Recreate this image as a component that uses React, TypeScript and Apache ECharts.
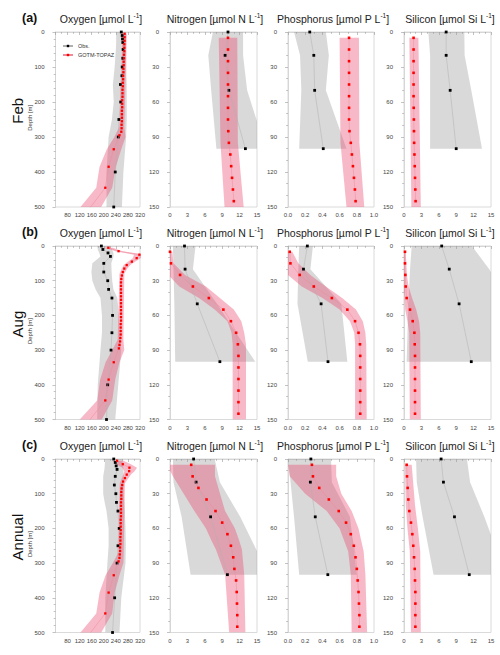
import React, { useEffect, useRef } from "react";
import * as echarts from "echarts";

// ---------- depths ----------
const OXY_OBS_DEPTH = [0, 10, 20, 30, 50, 75, 100, 125, 150, 200, 250, 300, 400, 500];
const OXY_MOD_DEPTH = [5, 15, 25, 35, 45, 55, 65, 75, 85, 95, 105, 115, 125, 135, 145, 155, 165, 175, 185, 195, 205, 215, 225, 235, 245, 255, 265, 275, 285, 295, 335, 385, 445, 505];
const NUT_OBS_DEPTH = [0, 20, 50, 100];
const NUT_MOD_DEPTH = [5, 15, 25, 35, 45, 55, 65, 75, 85, 95, 105, 115, 125, 135, 145];

// ---------- Oxygen ----------
const oxyFebObs = [258, 261, 262, 263, 264, 263, 261, 260, 255, 256, 250, 248, 238, 233];
const oxyFebObsLow = [241, 241, 241, 241, 240, 238, 236, 233, 230, 233, 227, 216, 209, 209];
const oxyFebObsHigh = [274, 274, 274, 274, 274, 275, 275, 275, 276, 276, 276, 274, 265, 260];
const oxyFebMod = [269, 269, 269, 268, 268, 268, 267, 267, 266, 266, 265, 265, 264, 264, 263, 263, 262, 262, 262, 261, 261, 261, 260, 260, 260, 260, 259, 259, 258, 252, 233, 216, 205, 152];
const oxyFebBandDepth = [5, 270, 300, 335, 385, 445, 505];
const oxyFebBandLow = [262, 252, 235, 210, 186, 175, 118];
const oxyFebBandHigh = [276, 268, 272, 258, 240, 228, 188];

const oxyAugObs = [192, 197, 214, 222, 200, 200, 213, 216, 227, 229, 227, 224, 213, 209];
const oxyAugObsLow = [178, 180, 185, 189, 162, 159, 162, 173, 189, 194, 194, 189, 180, 178];
const oxyAugObsHigh = [222, 227, 232, 232, 225, 226, 228, 232, 245, 250, 252, 258, 248, 238];
const oxyAugMod = [215, 249, 318, 309, 293, 276, 268, 263, 260, 258, 257, 257, 257, 257, 257, 257, 257, 257, 257, 257, 257, 257, 256, 256, 256, 256, 255, 254, 252, 250, 233, 216, 205, 150];
const oxyAugBandDepth = [5, 15, 25, 35, 45, 55, 65, 80, 270, 300, 335, 385, 445, 505];
const oxyAugBandLow = [200, 240, 300, 296, 281, 266, 260, 252, 246, 228, 206, 188, 178, 115];
const oxyAugBandHigh = [230, 262, 335, 322, 305, 288, 278, 268, 265, 268, 252, 238, 228, 190];

const oxyAnnObs = [233, 238, 241, 244, 238, 235, 240, 242, 247, 251, 247, 244, 236, 229];
const oxyAnnObsLow = [205, 204, 203, 202, 198, 198, 198, 203, 209, 216, 216, 212, 205, 205];
const oxyAnnObsHigh = [262, 263, 264, 265, 266, 266, 266, 268, 270, 272, 273, 272, 258, 252];
const oxyAnnMod = [244, 263, 285, 284, 276, 270, 264, 261, 259, 258, 258, 258, 257, 257, 257, 257, 257, 256, 256, 256, 256, 256, 255, 255, 255, 254, 254, 253, 252, 249, 233, 216, 205, 152];
const oxyAnnBandDepth = [5, 15, 25, 35, 45, 55, 70, 270, 300, 335, 385, 445, 505];
const oxyAnnBandLow = [228, 240, 262, 268, 265, 260, 253, 248, 230, 206, 186, 175, 118];
const oxyAnnBandHigh = [265, 290, 310, 302, 290, 282, 270, 266, 265, 252, 236, 228, 188];

// ---------- Nitrogen ----------
const nitFebObs = [10.0, 9.5, 10.15, 13.0];
const nitFebObsLow = [7.4, 6.6, 7.1, 8.0];
const nitFebObsHigh = [12.6, 12.6, 13.3, 16.5];
const nitFebMod = [10.0, 10.0, 10.0, 10.0, 10.0, 10.0, 10.0, 10.0, 10.05, 10.15, 10.4, 10.55, 10.7, 10.85, 11.0];
const nitFebBandDepth = [5, 95, 150];
const nitFebBandLow = [8.4, 8.7, 9.4];
const nitFebBandHigh = [11.6, 11.7, 12.7];

const nitAugObs = [2.5, 2.6, 4.7, 8.6];
const nitAugObsLow = [0.5, 0.6, 0.75, 0.9];
const nitAugObsHigh = [4.4, 3.95, 8.1, 14.7];
const nitAugMod = [0.0, 0.17, 1.74, 3.95, 6.7, 9.2, 10.5, 11.4, 11.7, 11.8, 11.8, 11.8, 11.8, 11.8, 11.8];
const nitAugBandDepth = [5, 15, 25, 35, 45, 55, 65, 75, 85, 150];
const nitAugBandLow = [-0.5, -0.5, -0.3, 1.6, 5.0, 7.7, 9.9, 10.6, 10.8, 10.8];
const nitAugBandHigh = [0.4, 0.6, 2.6, 6.2, 8.6, 11.0, 12.3, 12.8, 13.1, 13.1];

const nitAnnObs = [4.07, 4.5, 7.0, 9.9];
const nitAnnObsLow = [0.5, 0.6, 2.0, 3.55];
const nitAnnObsHigh = [7.7, 8.6, 12.1, 17.0];
const nitAnnMod = [3.66, 3.9, 4.9, 6.3, 7.85, 9.0, 9.9, 10.5, 10.9, 11.1, 11.4, 11.5, 11.55, 11.6, 11.6];
const nitAnnBandDepth = [5, 15, 45, 60, 70, 78, 100, 150];
const nitAnnBandLow = [-0.5, 0.5, 4.2, 6.2, 7.1, 7.9, 9.5, 10.2];
const nitAnnBandHigh = [7.75, 7.75, 9.5, 11.2, 11.9, 12.4, 12.8, 13.0];

// ---------- Phosphorus ----------
const phoFebObs = [0.253, 0.30, 0.31, 0.41];
const phoFebObsLow = [0.07, 0.14, 0.155, 0.13];
const phoFebObsHigh = [0.44, 0.475, 0.44, 0.68];
const phoFebMod = [0.71, 0.71, 0.71, 0.71, 0.71, 0.71, 0.71, 0.71, 0.715, 0.73, 0.743, 0.755, 0.767, 0.778, 0.786];
const phoFebBandDepth = [5, 95, 150];
const phoFebBandLow = [0.6, 0.61, 0.68];
const phoFebBandHigh = [0.825, 0.83, 0.887];

const phoAugObs = [0.225, 0.18, 0.385, 0.465];
const phoAugObsLow = [0.13, 0.12, 0.11, 0.23];
const phoAugObsHigh = [0.29, 0.26, 0.62, 0.69];
const phoAugMod = [0.02, 0.028, 0.136, 0.30, 0.51, 0.69, 0.78, 0.82, 0.837, 0.84, 0.84, 0.84, 0.84, 0.84, 0.84];
const phoAugBandDepth = [5, 15, 25, 35, 45, 55, 65, 75, 85, 150];
const phoAugBandLow = [-0.02, -0.02, 0.0, 0.16, 0.40, 0.60, 0.72, 0.77, 0.78, 0.78];
const phoAugBandHigh = [0.05, 0.12, 0.26, 0.44, 0.63, 0.79, 0.87, 0.9, 0.91, 0.915];

const phoAnnObs = [0.266, 0.26, 0.317, 0.463];
const phoAnnObsLow = [0.0, 0.03, 0.07, 0.13];
const phoAnnObsHigh = [0.50, 0.51, 0.72, 0.80];
const phoAnnMod = [0.278, 0.29, 0.363, 0.475, 0.59, 0.675, 0.73, 0.765, 0.785, 0.80, 0.81, 0.82, 0.825, 0.83, 0.83];
const phoAnnBandDepth = [5, 15, 30, 45, 60, 80, 100, 150];
const phoAnnBandLow = [0.0, 0.02, 0.2, 0.45, 0.6, 0.7, 0.73, 0.74];
const phoAnnBandHigh = [0.56, 0.56, 0.62, 0.74, 0.82, 0.88, 0.9, 0.92];

// ---------- Silicon ----------
const silFebObs = [7.27, 7.27, 7.96, 9.0];
const silFebObsLow = [4.2, 4.5, 4.5, 4.5];
const silFebObsHigh = [10.4, 10.45, 11.6, 13.45];
const silFebMod = [1.65, 1.65, 1.65, 1.65, 1.65, 1.65, 1.67, 1.7, 1.72, 1.75, 1.8, 1.85, 1.9, 1.95, 2.0];
const silFebBandDepth = [5, 150];
const silFebBandLow = [0.92, 1.27];
const silFebBandHigh = [2.48, 2.9];

const silAugObs = [6.5, 7.8, 9.5, 11.6];
const silAugObsLow = [1.33, 1.04, 0.75, 0.46];
const silAugObsHigh = [11.7, 14.7, 18, 18];
const silAugMod = [0.17, 0.17, 0.23, 0.29, 0.46, 1.04, 1.5, 1.79, 1.85, 1.9, 1.9, 1.9, 1.9, 1.9, 1.9];
const silAugBandDepth = [5, 25, 35, 45, 55, 65, 75, 150];
const silAugBandLow = [-0.2, -0.2, -0.1, 0.1, 0.2, 0.6, 0.9, 1.0];
const silAugBandHigh = [0.3, 0.5, 0.8, 1.4, 2.1, 2.6, 2.8, 2.9];

const silAnnObs = [6.4, 6.8, 8.7, 11.25];
const silAnnObsLow = [2.08, 2.2, 3.2, 5.1];
const silAnnObsHigh = [10.85, 11.4, 13.85, 17.5];
const silAnnMod = [0.46, 0.52, 0.63, 0.75, 0.92, 1.2, 1.44, 1.6, 1.73, 1.85, 1.9, 1.96, 1.96, 1.96, 1.96];
const silAnnBandDepth = [5, 40, 60, 80, 150];
const silAnnBandLow = [0.17, 0.3, 0.6, 1.0, 1.2];
const silAnnBandHigh = [1.33, 1.9, 2.4, 2.8, 2.9];

// ---------- labels ----------
const ROW_LABELS = ["Feb", "Aug", "Annual"];
const PANEL_LETTERS = ["(a)", "(b)", "(c)"];
const COL_TITLES = [
  ["Oxygen [µmol L", "]"],
  ["Nitrogen [µmol N L", "]"],
  ["Phosphorus [µmol P L", "]"],
  ["Silicon [µmol Si L", "]"],
];

// layout
const COL_LEFT = [55.5, 170, 288, 404];
const COL_WIDTH = [84.5, 87, 86, 87];
const COL_TITLE_X = [101, 215, 333, 450];
const ROW_TOP = [32, 246, 459];
const ROW_HEIGHT = [175, 173.5, 173.5];
const ROW_TITLE_Y = [19, 233, 446];

const FONT = "'Liberation Sans', Arial, Helvetica, sans-serif";
const GRAY_BAND = "rgba(150,150,150,0.36)";
const PINK_BAND = "rgba(234,70,110,0.38)";

type Panel = {
  obs: number[]; obsLow: number[]; obsHigh: number[];
  mod: number[]; bandDepth: number[]; bandLow: number[]; bandHigh: number[];
};

const PANELS: Panel[][] = [
  [
    { obs: oxyFebObs, obsLow: oxyFebObsLow, obsHigh: oxyFebObsHigh, mod: oxyFebMod, bandDepth: oxyFebBandDepth, bandLow: oxyFebBandLow, bandHigh: oxyFebBandHigh },
    { obs: nitFebObs, obsLow: nitFebObsLow, obsHigh: nitFebObsHigh, mod: nitFebMod, bandDepth: nitFebBandDepth, bandLow: nitFebBandLow, bandHigh: nitFebBandHigh },
    { obs: phoFebObs, obsLow: phoFebObsLow, obsHigh: phoFebObsHigh, mod: phoFebMod, bandDepth: phoFebBandDepth, bandLow: phoFebBandLow, bandHigh: phoFebBandHigh },
    { obs: silFebObs, obsLow: silFebObsLow, obsHigh: silFebObsHigh, mod: silFebMod, bandDepth: silFebBandDepth, bandLow: silFebBandLow, bandHigh: silFebBandHigh },
  ],
  [
    { obs: oxyAugObs, obsLow: oxyAugObsLow, obsHigh: oxyAugObsHigh, mod: oxyAugMod, bandDepth: oxyAugBandDepth, bandLow: oxyAugBandLow, bandHigh: oxyAugBandHigh },
    { obs: nitAugObs, obsLow: nitAugObsLow, obsHigh: nitAugObsHigh, mod: nitAugMod, bandDepth: nitAugBandDepth, bandLow: nitAugBandLow, bandHigh: nitAugBandHigh },
    { obs: phoAugObs, obsLow: phoAugObsLow, obsHigh: phoAugObsHigh, mod: phoAugMod, bandDepth: phoAugBandDepth, bandLow: phoAugBandLow, bandHigh: phoAugBandHigh },
    { obs: silAugObs, obsLow: silAugObsLow, obsHigh: silAugObsHigh, mod: silAugMod, bandDepth: silAugBandDepth, bandLow: silAugBandLow, bandHigh: silAugBandHigh },
  ],
  [
    { obs: oxyAnnObs, obsLow: oxyAnnObsLow, obsHigh: oxyAnnObsHigh, mod: oxyAnnMod, bandDepth: oxyAnnBandDepth, bandLow: oxyAnnBandLow, bandHigh: oxyAnnBandHigh },
    { obs: nitAnnObs, obsLow: nitAnnObsLow, obsHigh: nitAnnObsHigh, mod: nitAnnMod, bandDepth: nitAnnBandDepth, bandLow: nitAnnBandLow, bandHigh: nitAnnBandHigh },
    { obs: phoAnnObs, obsLow: phoAnnObsLow, obsHigh: phoAnnObsHigh, mod: phoAnnMod, bandDepth: phoAnnBandDepth, bandLow: phoAnnBandLow, bandHigh: phoAnnBandHigh },
    { obs: silAnnObs, obsLow: silAnnObsLow, obsHigh: silAnnObsHigh, mod: silAnnMod, bandDepth: silAnnBandDepth, bandLow: silAnnBandLow, bandHigh: silAnnBandHigh },
  ],
];

function bandSeries(idx: number, depth: number[], low: number[], high: number[], fill: string, z: number) {
  const data = depth.map((d, i) => [low[i], high[i], d]);
  return {
    type: "custom",
    xAxisIndex: idx,
    yAxisIndex: idx,
    clip: true,
    silent: true,
    z,
    encode: { x: [0, 1], y: 2 },
    data,
    renderItem: (params: any, api: any) => {
      if (params.dataIndex !== 0) return null;
      const pts: number[][] = [];
      for (let i = 0; i < data.length; i++) pts.push(api.coord([data[i][0], data[i][2]]));
      for (let i = data.length - 1; i >= 0; i--) pts.push(api.coord([data[i][1], data[i][2]]));
      return { type: "polygon", shape: { points: pts }, style: { fill } };
    },
  };
}

export default function App() {
  const ref = useRef<HTMLDivElement>(null);
  useEffect(() => {
    if (!ref.current) return;
    const chart = echarts.init(ref.current, undefined, { renderer: "svg" });
    const grids: any[] = [];
    const xAxes: any[] = [];
    const yAxes: any[] = [];
    const series: any[] = [];
    const graphics: any[] = [];

    const tickStyle = { lineStyle: { color: "#9a9a9a", width: 0.6 } };
    const labelStyle = { fontSize: 6, color: "#444", fontFamily: FONT };

    for (let r = 0; r < 3; r++) {
      for (let c = 0; c < 4; c++) {
        const idx = r * 4 + c;
        grids.push({
          left: COL_LEFT[c], top: ROW_TOP[r], width: COL_WIDTH[c], height: ROW_HEIGHT[r],
          show: true, borderColor: "#d0d0d0", borderWidth: 0.8, backgroundColor: "transparent",
        });
        let xa: any;
        if (c === 0) {
          xa = { min: 40, max: 320, interval: 40, minorSplit: 2,
            formatter: (v: number) => (v === 40 ? "" : String(v)) };
        } else if (c === 2) {
          xa = { min: 0, max: 1, interval: 0.2, minorSplit: 2, formatter: (v: number) => v.toFixed(1) };
        } else {
          xa = { min: 0, max: 15, interval: 3, minorSplit: 3, formatter: (v: number) => String(v) };
        }
        xAxes.push({
          type: "value", gridIndex: idx, min: xa.min, max: xa.max, interval: xa.interval,
          axisLine: { show: true, lineStyle: { color: "#d0d0d0", width: 0.8 } },
          axisTick: { show: true, inside: false, length: 3, ...tickStyle },
          minorTick: { show: true, splitNumber: xa.minorSplit, length: 1.8, ...tickStyle },
          axisLabel: { ...labelStyle, margin: 5, formatter: xa.formatter },
          splitLine: { show: false },
        });
        const deep = c === 0;
        yAxes.push({
          type: "value", gridIndex: idx, inverse: true, min: 0, max: deep ? 500 : 150, interval: deep ? 100 : 30,
          axisLine: { show: true, lineStyle: { color: "#d0d0d0", width: 0.8 } },
          axisTick: { show: true, inside: false, length: 3, ...tickStyle },
          minorTick: { show: true, splitNumber: deep ? 5 : 3, length: 1.8, ...tickStyle },
          axisLabel: { ...labelStyle, margin: 11 },
          splitLine: { show: false },
        });

        const p = PANELS[r][c];
        const obsDepth = deep ? OXY_OBS_DEPTH : NUT_OBS_DEPTH;
        const modDepth = deep ? OXY_MOD_DEPTH : NUT_MOD_DEPTH;
        series.push(bandSeries(idx, obsDepth, p.obsLow, p.obsHigh, GRAY_BAND, 1));
        series.push(bandSeries(idx, p.bandDepth, p.bandLow, p.bandHigh, PINK_BAND, 2));
        series.push({
          type: "line", name: "Obs.", xAxisIndex: idx, yAxisIndex: idx, z: 4,
          data: p.obs.map((v, i) => [v, obsDepth[i]]),
          symbol: "rect", symbolSize: 2.8, showSymbol: true,
          itemStyle: { color: "#000" }, lineStyle: { color: "#b0b0b0", width: 0.5 },
        });
        series.push({
          type: "line", name: "GOTM-TOPAZ", xAxisIndex: idx, yAxisIndex: idx, z: 5,
          data: p.mod.map((v, i) => [v, modDepth[i]]),
          symbol: "rect", symbolSize: deep ? 2.3 : 2.6, showSymbol: true,
          itemStyle: { color: "#ff0000" }, lineStyle: { color: "#ef8a98", width: 0.5 },
        });

        graphics.push({
          type: "text", x: COL_TITLE_X[c], y: ROW_TITLE_Y[r],
          style: {
            text: `{t|${COL_TITLES[c][0]}}{s|-1}{t|${COL_TITLES[c][1]}}`,
            align: "center", verticalAlign: "middle",
            rich: {
              t: { fontSize: 10.5, fontFamily: FONT, fill: "#222", lineHeight: 14 },
              s: { fontSize: 6.5, fontFamily: FONT, fill: "#222", verticalAlign: "top", lineHeight: 14 },
            },
          },
        });
      }
      graphics.push({
        type: "text", x: 22, y: ROW_TITLE_Y[r] - 1,
        style: { text: PANEL_LETTERS[r], fontSize: 12.5, fontWeight: "bold", fontFamily: FONT, fill: "#111", align: "left", verticalAlign: "middle" },
      });
      const midY = ROW_TOP[r] + ROW_HEIGHT[r] * 0.45;
      graphics.push({
        type: "text", x: 17, y: midY, rotation: Math.PI / 2,
        style: { text: ROW_LABELS[r], fontSize: 15, fontFamily: FONT, fill: "#111", align: "center", verticalAlign: "middle" },
      });
      graphics.push({
        type: "text", x: 30, y: midY + 7, rotation: Math.PI / 2,
        style: { text: "Depth [m]", fontSize: 6, fontFamily: FONT, fill: "#333", align: "center", verticalAlign: "middle" },
      });
    }

    chart.setOption({
      animation: false,
      backgroundColor: "#fff",
      grid: grids,
      xAxis: xAxes,
      yAxis: yAxes,
      series,
      legend: {
        data: ["Obs.", "GOTM-TOPAZ"], orient: "vertical", left: 62, top: 43,
        itemWidth: 10, itemHeight: 3, itemGap: 3, padding: 0, selectedMode: false,
        textStyle: { fontSize: 5.5, fontFamily: FONT, color: "#333" },
      },
      graphic: graphics,
    });
    return () => chart.dispose();
  }, []);
  return <div ref={ref} style={{ position: "absolute", left: 0, top: 0, width: 500, height: 655 }} />;
}
